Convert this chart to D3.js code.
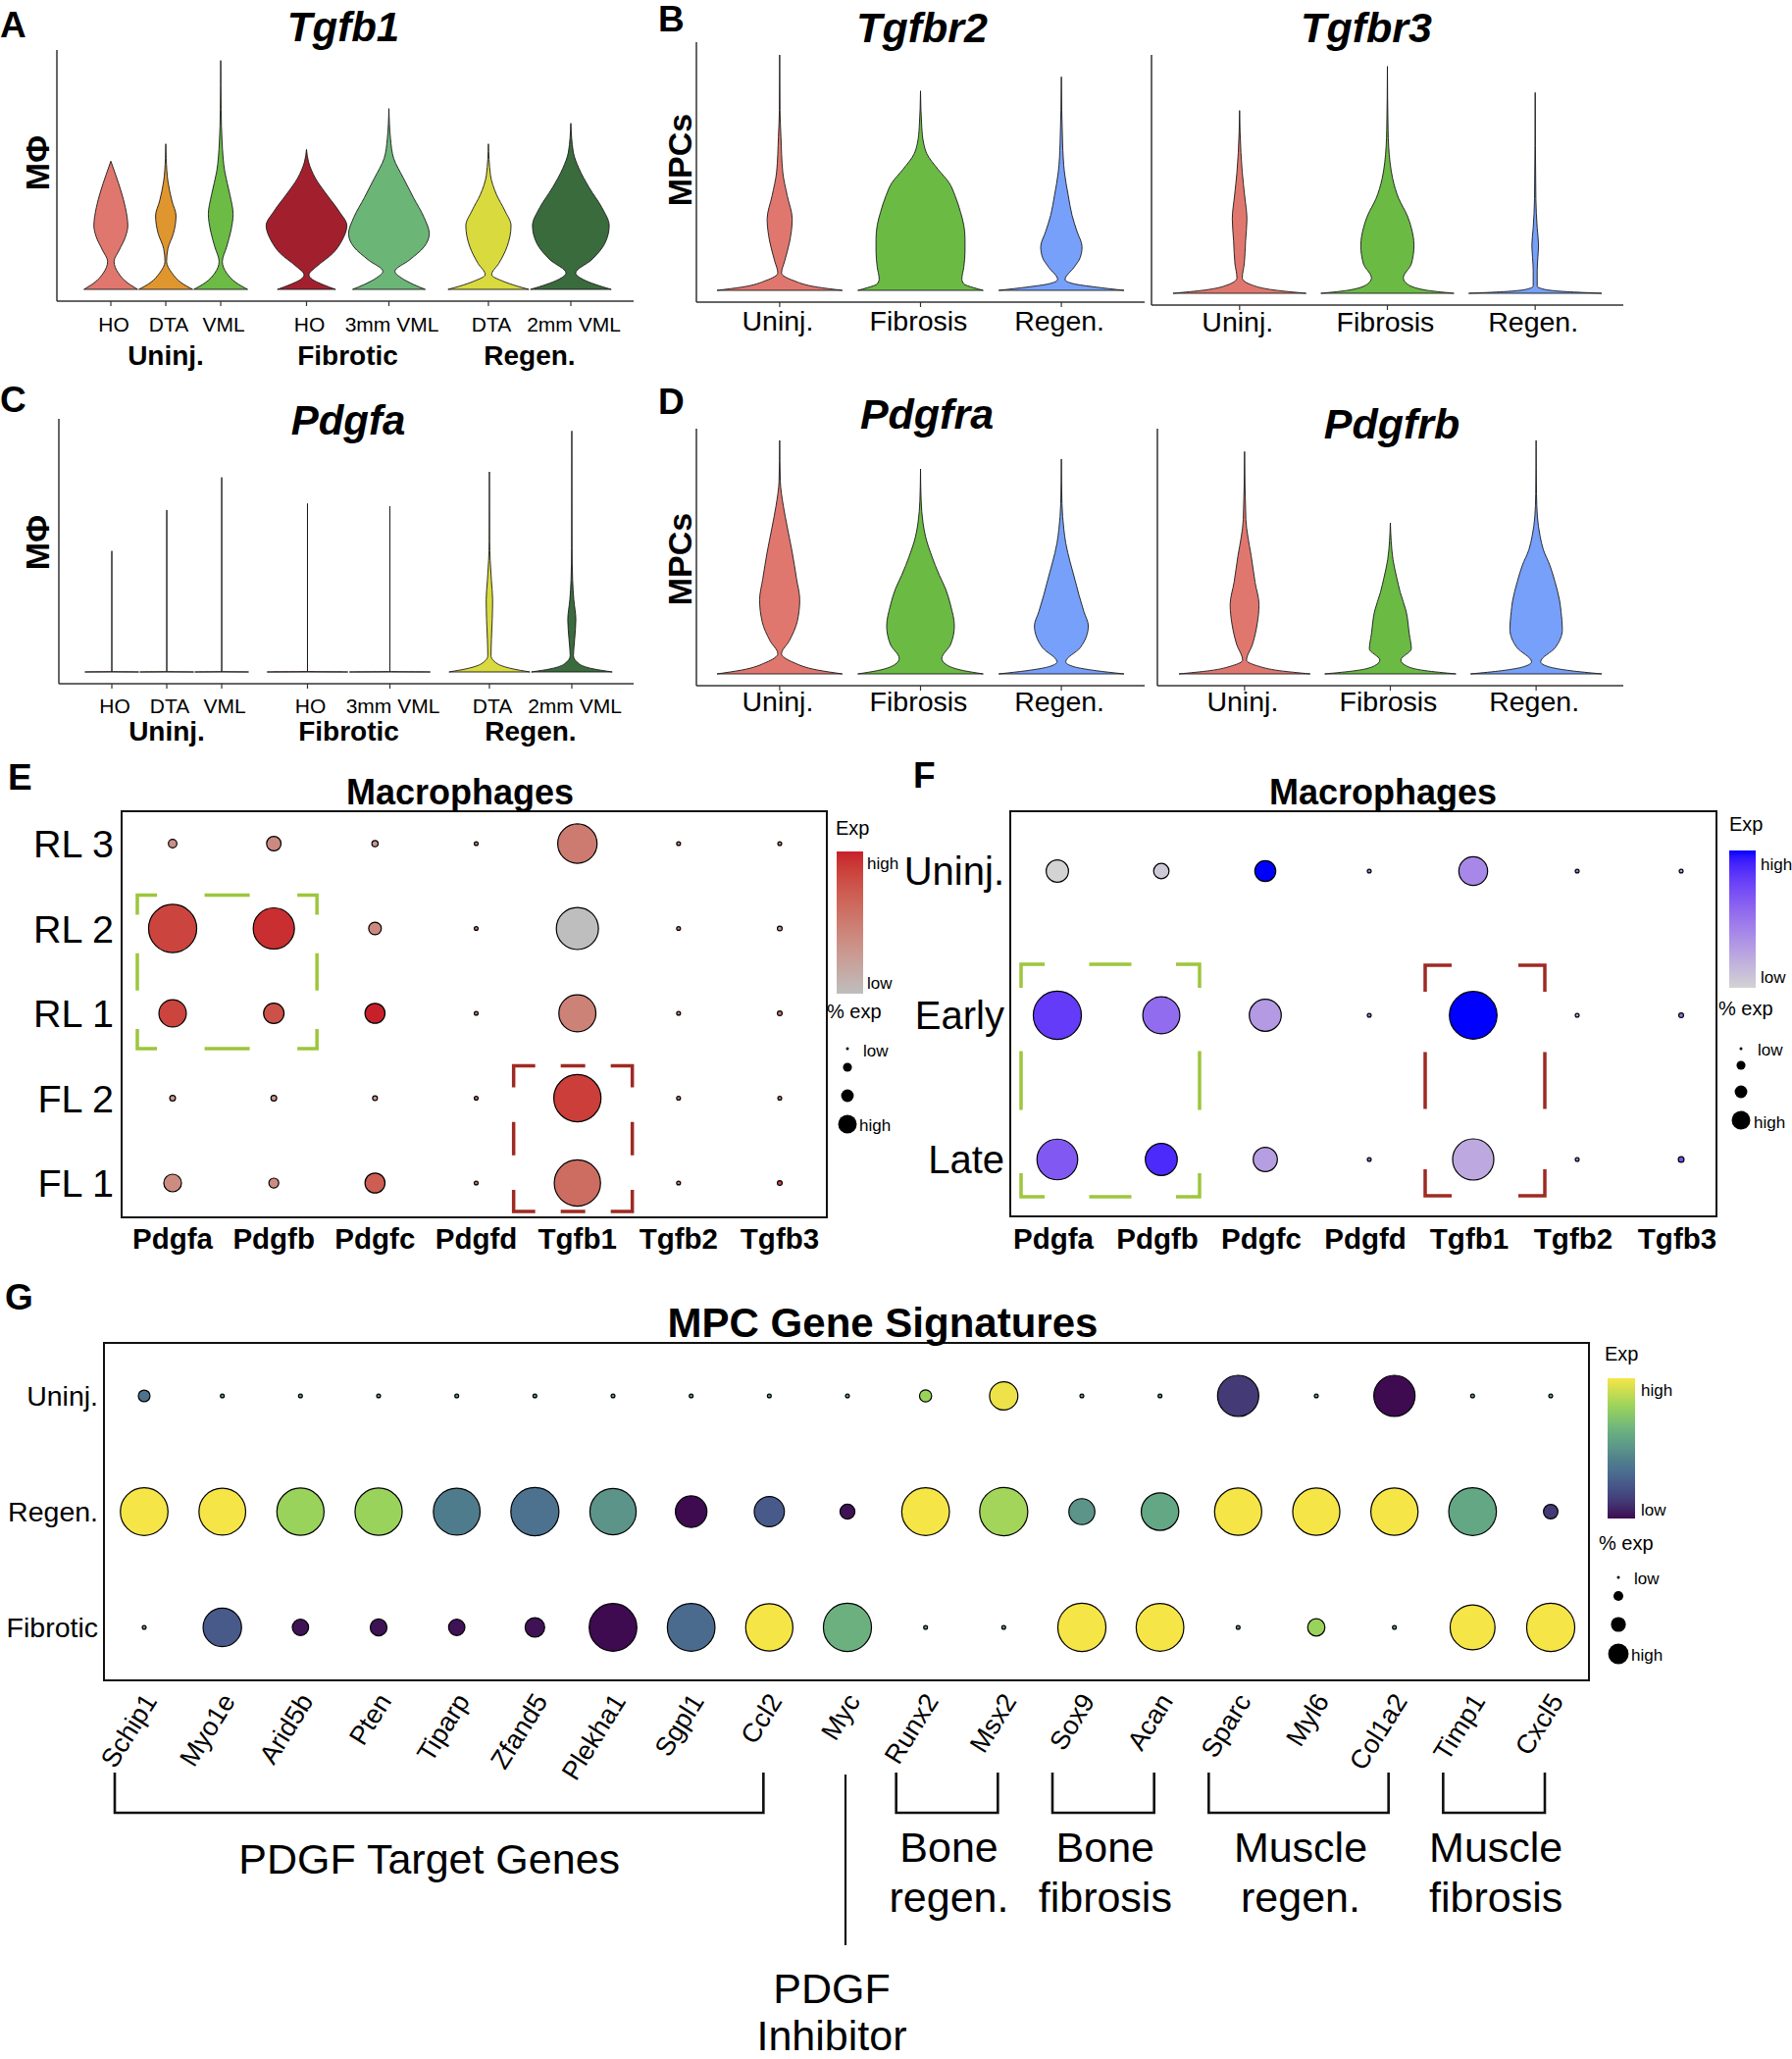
<!DOCTYPE html>
<html><head><meta charset="utf-8">
<script src="https://cdn.jsdelivr.net/npm/d3@7"></script>
<style>body{margin:0;background:#fff}</style>
</head><body>
<script>
// ---------------- DATA ----------------
const conditionsAC = ["Uninj.", "Fibrotic", "Regen."];
const samplesAC = [["HO", "DTA", "VML"], ["HO", "3mm VML"], ["DTA", "2mm VML"]];
const colorsAC = [["#E0776E", "#E0962E", "#6BBB44"], ["#A2202E", "#6BB577"], ["#D8DA3E", "#3A6B3D"]];
// violin profiles: [expression, relative density]
const tgfb1Profiles = [
  [
    [[0,1],[.2,.62],[.5,.28],[.85,.12],[1.2,.31],[1.6,.54],[1.95,.63],[2.5,.54],[3.0,.38],[3.5,.18],[3.92,0]],
    [[0,1],[.2,.58],[.5,.23],[.85,.03],[1.25,.08],[1.7,.28],[2.25,.38],[2.7,.23],[3.3,.08],[4.0,.015],[4.45,0]],
    [[0,1],[.2,.58],[.5,.22],[.85,.06],[1.3,.22],[1.8,.38],[2.3,.46],[2.9,.34],[3.6,.15],[4.5,.05],[5.5,.015],[7.0,0]]
  ],
  [
    [[0,.72],[.15,.40],[.3,.15],[.45,.06],[.7,.25],[1.1,.65],[1.5,.88],[1.95,1.0],[2.4,.80],[2.9,.50],[3.4,.22],[3.9,.05],[4.28,0]],
    [[0,.90],[.15,.61],[.35,.31],[.55,.15],[.9,.51],[1.3,.87],[1.7,1.0],[2.2,.87],[2.8,.61],[3.4,.36],[4.0,.12],[4.6,.04],[5.53,0]]
  ],
  [
    [[0,1],[.1,.71],[.25,.36],[.45,.08],[.8,.26],[1.3,.46],[1.95,.56],[2.4,.41],[2.9,.20],[3.5,.05],[4.45,0]],
    [[0,1],[.15,.61],[.3,.31],[.5,.12],[.9,.51],[1.4,.84],[1.95,.95],[2.5,.77],[3.1,.46],[3.7,.20],[4.2,.06],[5.08,0]]
  ]
];
const pdgfaProfiles = [
  [
    [[0,1],[.012,0],[3.70,0]],
    [[0,1],[.012,0],[4.95,0]],
    [[0,1],[.012,0],[5.95,0]]
  ],
  [
    [[0,1],[.012,0],[5.15,0]],
    [[0,1],[.012,0],[5.07,0]]
  ],
  [
    [[0,1],[.1,.56],[.25,.2],[.5,.04],[1.0,.05],[1.6,.07],[2.2,.08],[2.8,.05],[3.4,.02],[4.0,.005],[6.12,0]],
    [[0,1],[.1,.51],[.25,.18],[.5,.04],[1.0,.07],[1.6,.10],[2.2,.05],[2.8,.02],[3.8,.005],[7.37,0]]
  ]
];
const conditionsBD = ["Uninj.", "Fibrosis", "Regen."];
const colorsBD = ["#E0776E", "#6ABA44", "#76A0F9"];
const tgfbr2Profiles = [
  [[0,1],[.1,.6],[.3,.22],[.53,.03],[.9,.08],[1.5,.16],[2.18,.20],[2.9,.12],[3.6,.05],[4.7,.02],[5.5,.005],[7.2,0]],
  [[0,1],[.08,.85],[.2,.69],[.35,.66],[.7,.69],[1.2,.71],[1.58,.71],[2.0,.69],[2.38,.64],[2.9,.55],[3.28,.46],[3.7,.28],[4.18,.10],[4.5,.05],[5.0,.02],[6.1,0]],
  [[0,1],[.1,.55],[.2,.2],[.33,.06],[.7,.2],[1.0,.3],[1.33,.33],[1.8,.25],[2.3,.17],[2.9,.11],[3.6,.05],[4.5,.02],[6.53,0]]
];
const tgfbr3Profiles = [
  [[0,1],[.1,.52],[.25,.19],[.47,.04],[.9,.07],[1.6,.09],[2.27,.11],[3.0,.075],[3.7,.04],[4.3,.02],[5.59,0]],
  [[0,1],[.1,.57],[.3,.29],[.47,.24],[.9,.36],[1.47,.40],[2.0,.36],[2.37,.30],[2.9,.17],[3.5,.08],[4.0,.04],[5.0,.01],[6.94,0]],
  [[0,1],[.05,.47],[.12,.14],[.22,.03],[.7,.03],[1.1,.04],[1.47,.05],[2.0,.03],[2.9,.01],[6.14,0]]
];
const pdgfraProfiles = [
  [[0,1],[.12,.6],[.35,.22],[.62,.03],[1.0,.15],[1.6,.28],[2.27,.32],[2.9,.27],[3.72,.20],[4.5,.12],[5.12,.06],[5.9,.01],[7.14,0]],
  [[0,1],[.1,.69],[.3,.40],[.47,.34],[.9,.48],[1.47,.54],[2.1,.48],[2.6,.40],[3.02,.30],[3.6,.18],[4.2,.08],[4.62,.04],[5.3,.01],[6.27,0]],
  [[0,1],[.1,.55],[.22,.2],[.37,.07],[.8,.3],[1.47,.43],[1.9,.36],[2.42,.28],[3.0,.20],[3.42,.14],[4.0,.07],[4.42,.04],[5.2,.01],[6.57,0]]
];
const pdgfrbProfiles = [
  [[0,1],[.1,.53],[.25,.19],[.42,.03],[.9,.12],[1.5,.19],[2.12,.22],[2.8,.16],[3.62,.10],[4.2,.05],[4.72,.02],[6.8,0]],
  [[0,1],[.1,.53],[.25,.24],[.42,.16],[.77,.32],[1.2,.29],[1.92,.24],[2.5,.15],[2.92,.10],[3.5,.04],[4.62,0]],
  [[0,1],[.1,.52],[.22,.19],[.37,.07],[.8,.29],[1.37,.40],[1.9,.38],[2.22,.36],[2.8,.29],[3.32,.21],[3.8,.11],[4.22,.06],[4.8,.02],[5.5,.006],[7.14,0]]
];

const macroGenes = ["Pdgfa", "Pdgfb", "Pdgfc", "Pdgfd", "Tgfb1", "Tgfb2", "Tgfb3"];
const eRows = ["RL 3", "RL 2", "RL 1", "FL 2", "FL 1"];
const ePct = [
  [12, 25, 7, 2, 79, 2, 2],
  [98, 83, 21, 2, 85, 2, 4],
  [53, 38, 37, 2, 74, 2, 4],
  [6, 6, 4, 2, 96, 2, 2],
  [32, 15, 37, 2, 94, 2, 4]
];
const eExp = [
  [.35, .4, .3, .5, .5, .5, .5],
  [.85, .95, .4, .5, 0, .5, .3],
  [.85, .78, 1, .5, .45, .5, .5],
  [.3, .3, .3, .5, .88, .5, .5],
  [.38, .38, .7, .5, .6, .5, .8]
];
const fRows = ["Uninj.", "Early", "Late"];
const fPct = [
  [42, 27, 39, 2, 56, 2, 2],
  [98, 74, 63, 2, 97, 2, 4],
  [82, 63, 46, 2, 83, 2, 6]
];
const fExp = [
  [0, .05, 1, .5, .4, .5, .3],
  [.8, .55, .3, .5, 1, .3, .5],
  [.65, .88, .28, .6, .22, .5, .7]
];
const gGenes = ["Schip1","Myo1e","Arid5b","Pten","Tiparp","Zfand5","Plekha1","Sgpl1","Ccl2","Myc","Runx2","Msx2","Sox9","Acan","Sparc","Myl6","Col1a2","Timp1","Cxcl5"];
const gRows = ["Uninj.", "Regen.", "Fibrotic"];
const gPct = [
  [19,2,2,2,2,2,2,2,2,2,20,55,2,2,83,2,83,2,2],
  [97,95,96,96,95,98,94,62,59,26,97,98,50,75,96,96,96,97,25],
  [2,77,29,30,29,36,97,97,96,98,2,2,98,97,2,31,2,91,98]
];
const gExp = [
  [.35,.5,.5,.5,.5,.5,.5,.5,.5,.5,.8,.98,.5,.5,.12,.5,0,.5,.5],
  [1,1,.8,.8,.4,.35,.5,0,.25,.02,1,.82,.5,.58,1,1,1,.58,.12],
  [.5,.25,.02,.02,.02,.02,0,.32,1,.62,.5,.5,1,1,.5,.8,.5,1,1]
];
// colour stops of the (muted viridis) G palette
const gPaletteStops = [0, .12, .25, .35, .42, .5, .58, .65, .8, 1];
const gPaletteColors = ["#3E0A50","#433A76","#475A8A","#4C7290","#4F808C","#5C9489","#63A785","#72B67C","#9AD35C","#F6E546"];
const gGroups = [
  {lines: ["PDGF Target Genes"], from: "Schip1", to: "Ccl2"},
  {lines: ["Bone", "regen."], from: "Runx2", to: "Msx2"},
  {lines: ["Bone", "fibrosis"], from: "Sox9", to: "Acan"},
  {lines: ["Muscle", "regen."], from: "Sparc", to: "Col1a2"},
  {lines: ["Muscle", "fibrosis"], from: "Timp1", to: "Cxcl5"}
];
const inhibitorGene = "Myc";
const inhibitorLabel = ["PDGF", "Inhibitor"];
const legendPctEF = [0, 13, 21, 34];
const legendPctG = [0, 15, 26, 38];

// ---------------- DRAWING ----------------
const svg = d3.select("body").append("svg").attr("width", 1827).attr("height", 2099)
  .style("font-family", '"Liberation Sans", Arial, Helvetica, sans-serif');
svg.append("rect").attr("width", 1827).attr("height", 2099).attr("fill", "#fff");
const defs = svg.append("defs");

function T(x, y, s, o = {}) {
  const t = svg.append("text").attr("x", x).attr("y", y).text(s)
    .attr("font-size", o.size || 20)
    .attr("font-weight", o.bold ? "bold" : "normal")
    .attr("font-style", o.italic ? "italic" : "normal")
    .attr("text-anchor", o.anchor || "start")
    .attr("fill", o.fill || "#000");
  if (o.rotate != null) t.attr("transform", `rotate(${o.rotate},${x},${y})`);
  return t;
}
function L(x1, y1, x2, y2, col = "#333", w = 1.5) {
  svg.append("line").attr("x1", x1).attr("y1", y1).attr("x2", x2).attr("y2", y2)
    .attr("stroke", col).attr("stroke-width", w);
}
function drawViolin(cx, hw, prof, y, fill) {
  const area = d3.area().curve(d3.curveMonotoneY)
    .y(d => y(d[0])).x0(d => cx - d[1] * hw).x1(d => cx + d[1] * hw);
  svg.append("path").attr("d", area(prof)).attr("fill", fill)
    .attr("stroke", "#1a1a1a").attr("stroke-width", 0.9).attr("stroke-linejoin", "round");
}

function groupedPanel(o) {
  const y = d3.scaleLinear().domain(o.yDomain).range([o.yBottom, o.yTop]);
  const outer = d3.scaleBand().domain(conditionsAC).range(o.xRange).paddingInner(0.094);
  L(o.axisX, o.yTop, o.axisX, o.yBottom);
  L(o.axisX, o.yBottom, o.axisRight, o.yBottom);
  conditionsAC.forEach((c, i) => {
    const inner = d3.scaleBand().domain(d3.range(samplesAC[i].length))
      .range([outer(c), outer(c) + outer.bandwidth()]);
    samplesAC[i].forEach((s, j) => {
      const cx = inner(j) + inner.bandwidth() / 2;
      drawViolin(cx, inner.bandwidth() / 2 * 0.98, o.profiles[i][j], y, colorsAC[i][j]);
      L(cx, o.yBottom, cx, o.yBottom + 5, "#333", 1.2);
      T(cx + 3, o.tickY, s, {size: 21, anchor: "middle"});
    });
    T(outer(c) + outer.bandwidth() / 2, o.groupY, c, {size: 28, bold: true, anchor: "middle"});
  });
  T(o.titleX, o.titleY, o.title, {size: 42, bold: true, italic: true, anchor: "middle"});
  T(50, o.ylabY, "MΦ", {size: 34, bold: true, anchor: "middle", rotate: -90});
}

function simplePanel(o) {
  const y = d3.scaleLinear().domain(o.yDomain).range([o.yBottom, o.yTop]);
  const x = d3.scaleBand().domain(conditionsBD).range(o.xRange).paddingInner(o.pad);
  L(o.axisX, o.yTop, o.axisX, o.yBottom);
  L(o.axisX, o.yBottom, o.axisRight, o.yBottom);
  conditionsBD.forEach((c, i) => {
    const cx = x(c) + x.bandwidth() / 2;
    drawViolin(cx, x.bandwidth() / 2, o.profiles[i], y, colorsBD[i]);
    L(cx, o.yBottom, cx, o.yBottom + 5, "#333", 1.2);
    T(cx - 2, o.tickY, c, {size: 28.5, anchor: "middle"});
  });
  T(o.titleX, o.titleY, o.title, {size: 43, bold: true, italic: true, anchor: "middle"});
}

const rScale = d3.scaleLinear().domain([0, 100]).range([1.5, 25]);

function dotPlot(o) {
  const x = d3.scalePoint().domain(o.genes).range(o.xRange);
  const y = d3.scalePoint().domain(o.rows).range(o.yRange);
  svg.append("rect").attr("x", o.frame[0]).attr("y", o.frame[1])
    .attr("width", o.frame[2] - o.frame[0]).attr("height", o.frame[3] - o.frame[1])
    .attr("fill", "none").attr("stroke", "#111").attr("stroke-width", 2);
  o.rows.forEach((r, i) => {
    o.genes.forEach((g, j) => {
      svg.append("circle").attr("cx", x(g)).attr("cy", y(r)).attr("r", rScale(o.pct[i][j]))
        .attr("fill", o.color(o.exp[i][j])).attr("stroke", "#000").attr("stroke-width", 1.2);
    });
  });
  return {x, y};
}

function legend(o) {
  const id = "grad" + o.id;
  const lg = defs.append("linearGradient").attr("id", id).attr("x1", 0).attr("y1", 1).attr("x2", 0).attr("y2", 0);
  d3.range(0, 1.0001, 0.05).forEach(t => lg.append("stop").attr("offset", t).attr("stop-color", o.color(t)));
  T(o.expX, o.expY, "Exp", {size: 20});
  svg.append("rect").attr("x", o.gx).attr("y", o.gy).attr("width", o.gw).attr("height", o.gh)
    .attr("fill", `url(#${id})`);
  T(o.hx, o.highY, "high", {size: 17});
  T(o.hx, o.lowY, "low", {size: 17});
  T(o.pX, o.pY, "% exp", {size: 20});
  o.pcts.forEach((p, k) => {
    svg.append("circle").attr("cx", o.dx).attr("cy", o.dys[k]).attr("r", rScale(p)).attr("fill", "#000");
  });
  T(o.dlowX, o.dlowY, "low", {size: 17});
  T(o.dhighX, o.dhighY, "high", {size: 17});
}

function bracketBox(x0, y0, x1, y1, c, mTop, mSide, col) {
  const g = svg.append("g").attr("fill", "none").attr("stroke", col).attr("stroke-width", 3.5);
  const p = d3.path();
  p.moveTo(x0, y0 + c); p.lineTo(x0, y0); p.lineTo(x0 + c, y0);
  p.moveTo(x1 - c, y0); p.lineTo(x1, y0); p.lineTo(x1, y0 + c);
  p.moveTo(x0, y1 - c); p.lineTo(x0, y1); p.lineTo(x0 + c, y1);
  p.moveTo(x1 - c, y1); p.lineTo(x1, y1); p.lineTo(x1, y1 - c);
  const mx = (x0 + x1) / 2, my = (y0 + y1) / 2;
  if (mTop > 0) {
    p.moveTo(mx - mTop / 2, y0); p.lineTo(mx + mTop / 2, y0);
    p.moveTo(mx - mTop / 2, y1); p.lineTo(mx + mTop / 2, y1);
  }
  if (mSide > 0) {
    p.moveTo(x0, my - mSide / 2); p.lineTo(x0, my + mSide / 2);
    p.moveTo(x1, my - mSide / 2); p.lineTo(x1, my + mSide / 2);
  }
  g.append("path").attr("d", p.toString());
}

// Panel letters
[["A", 0, 38], ["B", 671, 32], ["C", 0, 420], ["D", 671, 422], ["E", 8, 805], ["F", 931, 803], ["G", 5, 1335]]
  .forEach(d => T(d[1], d[2], d[0], {size: 37, bold: true}));

// Panel A
groupedPanel({profiles: tgfb1Profiles, yDomain: [-0.36, 7.32], yBottom: 307, yTop: 51,
  xRange: [85, 624], axisX: 58, axisRight: 646, tickY: 338, groupY: 372,
  title: "Tgfb1", titleX: 350, titleY: 42, ylabY: 166});
// Panel C
groupedPanel({profiles: pdgfaProfiles, yDomain: [-0.36, 7.74], yBottom: 697, yTop: 427,
  xRange: [86, 625], axisX: 60, axisRight: 646, tickY: 727, groupY: 755,
  title: "Pdgfa", titleX: 355, titleY: 443, ylabY: 553});

// Panel B
simplePanel({profiles: tgfbr2Profiles, yDomain: [-0.36, 7.59], yBottom: 308, yTop: 43,
  xRange: [731, 1146], pad: 0.11, axisX: 710, axisRight: 1167, tickY: 337,
  title: "Tgfbr2", titleX: 940, titleY: 43});
simplePanel({profiles: tgfbr3Profiles, yDomain: [-0.36, 7.29], yBottom: 311, yTop: 56,
  xRange: [1196, 1633], pad: 0.1, axisX: 1174, axisRight: 1655, tickY: 338,
  title: "Tgfbr3", titleX: 1393, titleY: 43});
T(705, 163, "MPCs", {size: 34, bold: true, anchor: "middle", rotate: -90});
// Panel D
simplePanel({profiles: pdgfraProfiles, yDomain: [-0.36, 7.5], yBottom: 699, yTop: 437,
  xRange: [731, 1146], pad: 0.11, axisX: 710, axisRight: 1167, tickY: 725,
  title: "Pdgfra", titleX: 945, titleY: 437});
simplePanel({profiles: pdgfrbProfiles, yDomain: [-0.36, 7.5], yBottom: 699, yTop: 437,
  xRange: [1202, 1633], pad: 0.1, axisX: 1180, axisRight: 1655, tickY: 725,
  title: "Pdgfrb", titleX: 1419, titleY: 447});
T(705, 570, "MPCs", {size: 34, bold: true, anchor: "middle", rotate: -90});

// Panel E
const redScale = d3.interpolateLab("#BEBEBE", "#C8202A");
const E = dotPlot({genes: macroGenes, rows: eRows, pct: ePct, exp: eExp, color: redScale,
  xRange: [176, 795], yRange: [860, 1206], frame: [124, 827, 843, 1241]});
T(469, 820, "Macrophages", {size: 36, bold: true, anchor: "middle"});
eRows.forEach(r => T(116, E.y(r) + 14, r, {size: 39.5, anchor: "end"}));
macroGenes.forEach(g => T(E.x(g), 1273, g, {size: 29.5, bold: true, anchor: "middle"}));
bracketBox(E.x("Pdgfa") - 36, E.y("RL 2") - 34, E.x("Pdgfb") + 44, E.y("RL 1") + 36, 20, 46, 38, "#9DC63C");
bracketBox(E.x("Tgfb1") - 65, E.y("FL 2") - 33, E.x("Tgfb1") + 56, E.y("FL 1") + 29, 22, 25, 34, "#9E2A22");
legend({id: "E", color: redScale, expX: 852, expY: 851, gx: 853, gy: 868, gw: 27, gh: 145,
  hx: 884, highY: 886, lowY: 1008, pX: 843, pY: 1038, pcts: legendPctEF, dx: 864,
  dys: [1069, 1088, 1117, 1146], dlowX: 880, dlowY: 1077, dhighX: 876, dhighY: 1153});

// Panel F
const blueScale = d3.interpolateLab("#D3D3D3", "#0000FF");
const F = dotPlot({genes: macroGenes, rows: fRows, pct: fPct, exp: fExp, color: blueScale,
  xRange: [1078, 1714], yRange: [888, 1182], frame: [1030, 827, 1750, 1240]});
T(1410, 820, "Macrophages", {size: 36, bold: true, anchor: "middle"});
fRows.forEach(r => T(1024, F.y(r) + 14, r, {size: 40, anchor: "end"}));
macroGenes.forEach(g => T(F.x(g) - 4, 1273, g, {size: 29.5, bold: true, anchor: "middle"}));
bracketBox(F.x("Pdgfa") - 37, F.y("Early") - 52, F.x("Pdgfb") + 39, F.y("Late") + 38, 24, 43, 60, "#9DC63C");
bracketBox(F.x("Tgfb1") - 49, F.y("Early") - 51, F.x("Tgfb1") + 73, F.y("Late") + 37, 27, 0, 58, "#9E2A22");
legend({id: "F", color: blueScale, expX: 1763, expY: 847, gx: 1763, gy: 867, gw: 27, gh: 140,
  hx: 1795, highY: 887, lowY: 1002, pX: 1752, pY: 1035, pcts: legendPctEF, dx: 1775,
  dys: [1069, 1086, 1113, 1142], dlowX: 1792, dlowY: 1076, dhighX: 1788, dhighY: 1150});

// Panel G
const gScale = d3.scaleLinear().domain(gPaletteStops).range(gPaletteColors).interpolate(d3.interpolateRgb);
const G = dotPlot({genes: gGenes, rows: gRows, pct: gPct, exp: gExp, color: gScale,
  xRange: [147, 1581], yRange: [1423, 1659], frame: [106, 1369, 1620, 1713]});
T(900, 1363, "MPC Gene Signatures", {size: 42, bold: true, anchor: "middle"});
gRows.forEach(r => T(100, G.y(r) + 10, r, {size: 28.5, anchor: "end"}));
gGenes.forEach(g => T(G.x(g) + 14, 1734, g, {size: 27, anchor: "end", rotate: -58}));
legend({id: "G", color: gScale, expX: 1636, expY: 1387, gx: 1639, gy: 1405, gw: 28, gh: 143,
  hx: 1673, highY: 1423, lowY: 1545, pX: 1630, pY: 1580, pcts: legendPctG, dx: 1650,
  dys: [1608, 1627, 1656, 1686], dlowX: 1666, dlowY: 1615, dhighX: 1663, dhighY: 1693});

// G annotations
gGroups.forEach(gr => {
  const x0 = G.x(gr.from) - 30, x1 = G.x(gr.to) - 6;
  const p = d3.path();
  p.moveTo(x0, 1807); p.lineTo(x0, 1848); p.lineTo(x1, 1848); p.lineTo(x1, 1807);
  svg.append("path").attr("d", p.toString()).attr("fill", "none").attr("stroke", "#111").attr("stroke-width", 2.6);
  const mx = (x0 + x1) / 2;
  if (gr.lines.length === 1) {
    T(mx - 10, 1910, gr.lines[0], {size: 43, anchor: "middle"});
  } else {
    gr.lines.forEach((s, k) => T(mx + 2, 1898 + k * 51, s, {size: 43, anchor: "middle"}));
  }
});
const mycX = G.x(inhibitorGene) - 2;
L(mycX, 1809, mycX, 1983, "#111", 2.2);
inhibitorLabel.forEach((s, k) => T(mycX - 14, 2042 + k * 48, s, {size: 43, anchor: "middle"}));
</script>
</body></html>
